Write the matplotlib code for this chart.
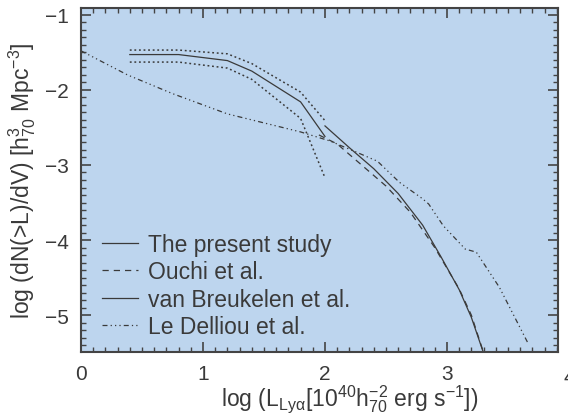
import matplotlib
matplotlib.use('Agg')
import matplotlib.pyplot as plt
from matplotlib.ticker import MultipleLocator

plt.rcParams['font.family'] = ['Liberation Sans', 'DejaVu Sans']
plt.rcParams['mathtext.fontset'] = 'custom'
plt.rcParams['mathtext.rm'] = 'Liberation Sans'
plt.rcParams['mathtext.it'] = 'Liberation Sans'
plt.rcParams['mathtext.default'] = 'regular'

# present study with upper / lower bounds
present_x = [0.4, 0.8, 1.2, 1.4, 1.8, 2.0]
present_y = [-1.53, -1.53, -1.61, -1.75, -2.16, -2.62]
upper_y = [-1.47, -1.47, -1.52, -1.65, -2.03, -2.41]
lower_y = [-1.63, -1.63, -1.71, -1.86, -2.38, -3.17]

ouchi_x = [1.95, 2.1, 2.3, 2.5, 2.7, 2.9, 3.1, 3.2, 3.32]
ouchi_y = [-2.60, -2.72, -3.00, -3.28, -3.63, -4.10, -4.65, -5.0, -5.6]

vanb_x = [2.0, 2.2, 2.4, 2.6, 2.8, 2.95, 3.1, 3.2, 3.32]
vanb_y = [-2.48, -2.77, -3.05, -3.38, -3.80, -4.22, -4.66, -5.03, -5.6]

delliou_x = [0.0, 0.38, 0.75, 1.2, 1.8, 2.04, 2.23, 2.43, 2.61, 2.8, 2.85,
             2.97, 3.15, 3.24, 3.43, 3.66]
delliou_y = [-1.48, -1.80, -2.05, -2.32, -2.56, -2.68, -2.81, -2.95, -3.23,
             -3.45, -3.52, -3.81, -4.12, -4.16, -4.63, -5.36]

ink = '#3a3a3a'
fs_tick = 15
fs = 16.5

fig = plt.figure(figsize=(5.68, 4.14), dpi=100)
ax = fig.add_axes([81/568, 1-353/414, (558-81)/568, (353-9)/414])
ax.set_facecolor('#bdd5ee')

ax.plot(present_x, present_y, color=ink, lw=0.9, label='The present study')
ax.plot(present_x, upper_y, color=ink, lw=1.1, linestyle=(0, (1.2, 1.8)))
ax.plot(present_x, lower_y, color=ink, lw=1.1, linestyle=(0, (1.2, 1.8)))
ax.plot(ouchi_x, ouchi_y, color=ink, lw=0.9, linestyle=(0, (5, 4)), label='Ouchi et al.')
ax.plot(vanb_x, vanb_y, color=ink, lw=0.9, label='van Breukelen et al.')
ax.plot(delliou_x, delliou_y, color=ink, lw=0.9,
        linestyle=(0, (4, 2.5, 1, 2.5, 1, 2.5, 1, 2.5)), label='Le Delliou et al.')

ax.set_xlim(0, 3.91)
ax.set_ylim(-5.49, -0.91)
ax.xaxis.set_major_locator(MultipleLocator(1))
ax.xaxis.set_minor_locator(MultipleLocator(0.1))
ax.yaxis.set_major_locator(MultipleLocator(1))
ax.yaxis.set_minor_locator(MultipleLocator(0.1))
ax.tick_params(which='both', direction='in', top=True, right=True,
               color='#444444', labelsize=fs_tick, labelcolor=ink)
ax.tick_params(which='major', length=7, width=1.2, pad=9)
ax.tick_params(which='minor', length=3.5, width=1.0)
for s in ax.spines.values():
    s.set_color('#444444')
    s.set_linewidth(1.5)

# tick label "4" sits just past the right edge of the axes
ax.text(4, -5.69, '4', ha='center', va='top', fontsize=fs_tick, color=ink,
        clip_on=False)

ax.set_xlabel(r'log (L$_{Ly\alpha}$[10$^{40}$h$_{70}^{-2}$ erg s$^{-1}$])',
              fontsize=fs, color=ink)
ax.xaxis.set_label_coords(0.564, -0.089)
ax.set_ylabel(r'log (dN(>L)/dV) [h$_{70}^{3}$ Mpc$^{-3}$]',
              fontsize=fs, color=ink, labelpad=5)

leg = ax.legend(loc='upper left', bbox_to_anchor=(0.044, 0.345), frameon=False,
                fontsize=fs, handlelength=1.57, handletextpad=0.45,
                labelspacing=0.18, borderpad=0, borderaxespad=0)
for t in leg.get_texts():
    t.set_color(ink)

fig.savefig('out.png', dpi=100)
